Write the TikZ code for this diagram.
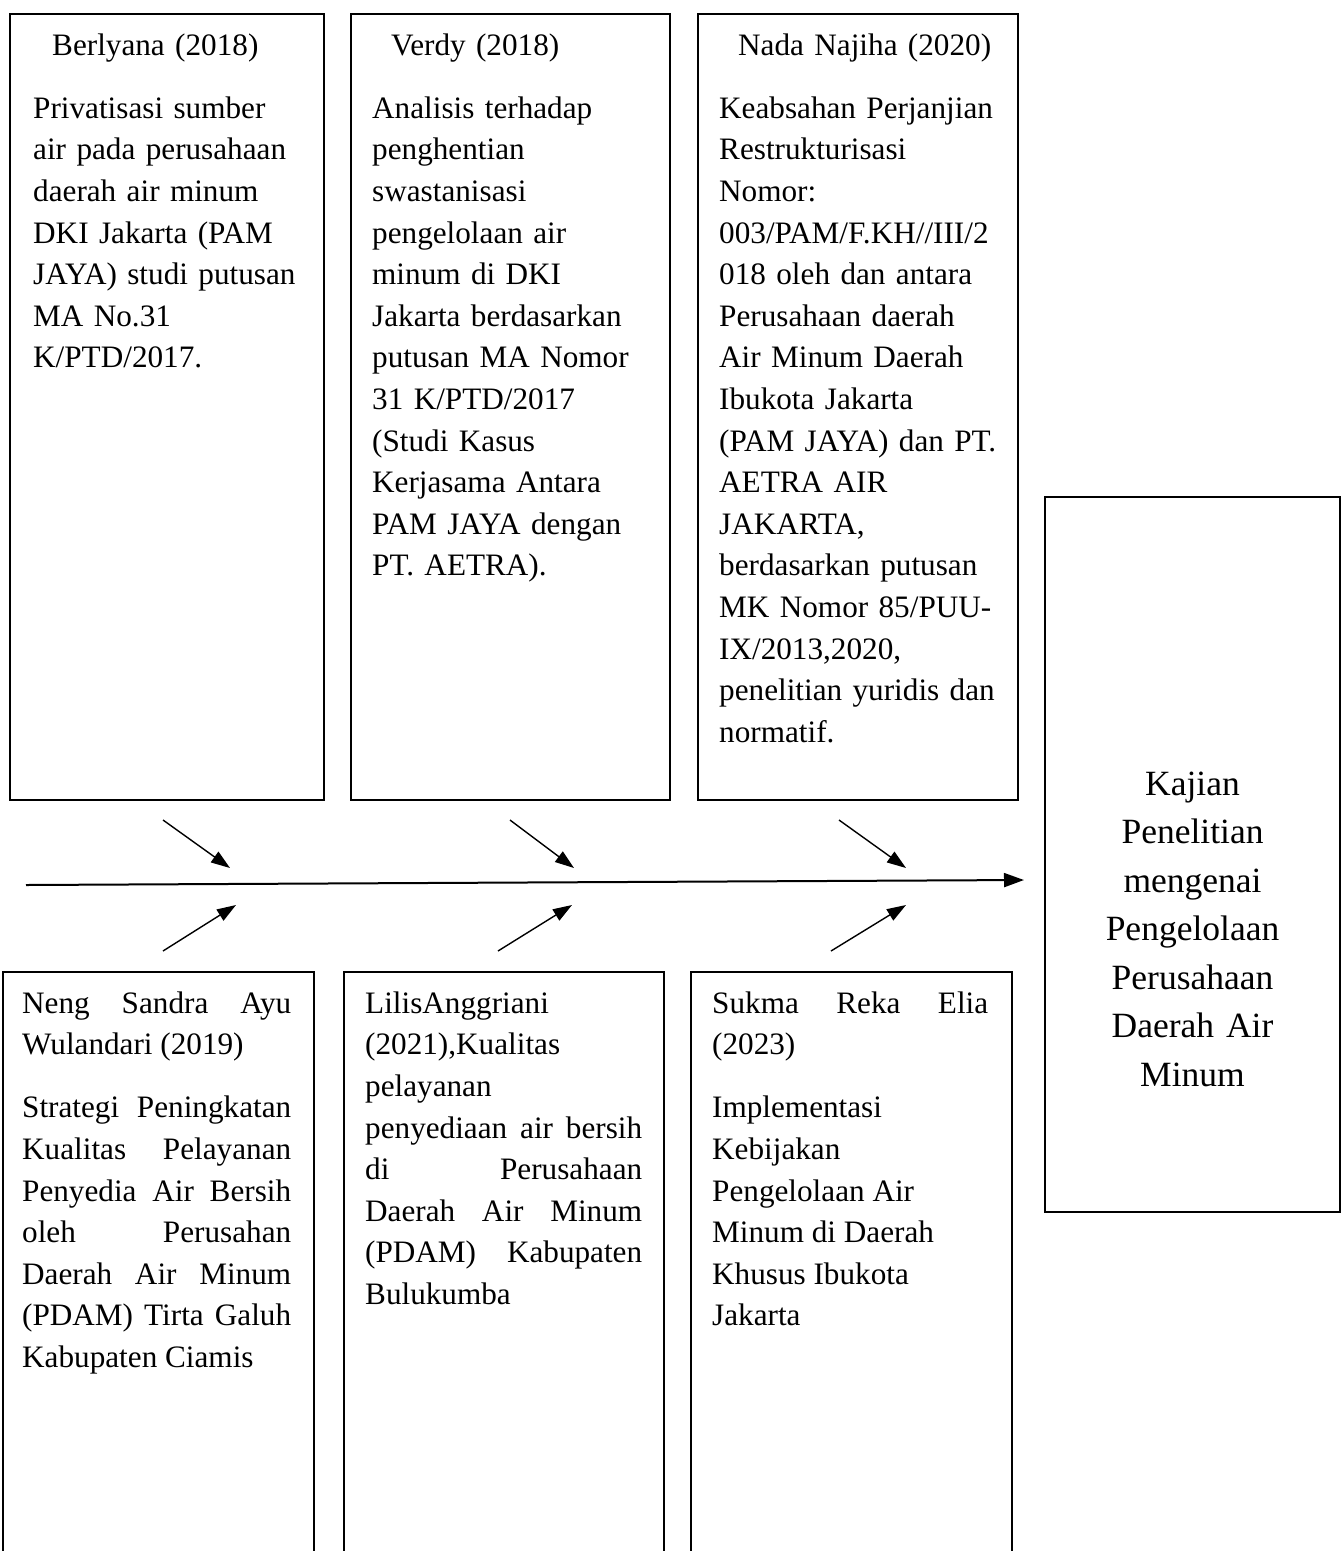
\documentclass[tikz,border=0pt]{standalone}
\usepackage{fontspec}
\setmainfont{Liberation Serif}
\usetikzlibrary{arrows.meta}
\hyphenpenalty=10000
\exhyphenpenalty=10000
\tolerance=10000
\hbadness=10000
\begin{document}
\begin{tikzpicture}[x=1pt,y=-1pt,
  frame/.style={draw, line width=1.8pt, inner sep=0pt},
  txt/.style={anchor=north west, inner sep=0pt, font=\fontsize{31.2pt}{41.6pt}\selectfont},
  leftpar/.style={txt, align=left, text width=#1},
  justpar/.style={txt, align=justify, text width=#1},
  feeder/.style={line width=1.4pt, -{Triangle[length=19pt,width=13pt]}},
  spine/.style={line width=2pt, -{Triangle[length=20pt,width=14pt]}}]

\path[use as bounding box, clip] (0,0) rectangle (1343,1551);

% upper row of sources
\node[frame, minimum width=314pt, minimum height=786pt] (berlyana) at (167,407) {};
\node[frame, minimum width=319pt, minimum height=786pt] (verdy) at (510.5,407) {};
\node[frame, minimum width=320pt, minimum height=786pt] (nada) at (858,407) {};

% lower row of sources (running past the page foot)
\node[frame, minimum width=311pt, minimum height=598pt] (neng) at (158.5,1271) {};
\node[frame, minimum width=320pt, minimum height=598pt] (lilis) at (504,1271) {};
\node[frame, minimum width=321pt, minimum height=598pt] (sukma) at (851.5,1271) {};

% outcome box
\node[frame, minimum width=295pt, minimum height=715pt] (kajian) at (1192.5,854.5) {};

% texts of the upper row
\node[leftpar=285pt] (berlyanatext) at (33,25.9) {\strut\hspace*{19pt}Berlyana (2018)\\[21.4pt]
Privatisasi sumber\\
air pada perusahaan\\
daerah air minum\\
DKI Jakarta (PAM\\
JAYA) studi putusan\\
MA No.31\\
K/PTD/2017.};

\node[leftpar=290pt] (verdytext) at (372,25.9) {\strut\hspace*{19pt}Verdy (2018)\\[21.4pt]
Analisis terhadap\\
penghentian\\
swastanisasi\\
pengelolaan air\\
minum di DKI\\
Jakarta berdasarkan\\
putusan MA Nomor\\
31 K/PTD/2017\\
(Studi Kasus\\
Kerjasama Antara\\
PAM JAYA dengan\\
PT. AETRA).};

\node[leftpar=295pt] (nadatext) at (719,25.9) {\strut\hspace*{19pt}Nada Najiha (2020)\\[21.4pt]
Keabsahan Perjanjian\\
Restrukturisasi\\
Nomor:\\
003/PAM/F.KH//III/2\\
018 oleh dan antara\\
Perusahaan daerah\\
Air Minum Daerah\\
Ibukota Jakarta\\
(PAM JAYA) dan PT.\\
AETRA AIR\\
JAKARTA,\\
berdasarkan putusan\\
MK Nomor 85/PUU-\\
IX/2013,2020,\\
penelitian yuridis dan\\
normatif.};

% texts of the lower row
\node[justpar=269pt] (nengtext) at (22,983.9) {\strut Neng Sandra Ayu\linebreak
Wulandari (2019)\\[21.4pt]
Strategi Peningkatan\linebreak
Kualitas Pelayanan\linebreak
Penyedia Air Bersih\linebreak
oleh Perusahan\linebreak
Daerah Air Minum\linebreak
(PDAM) Tirta Galuh\linebreak
Kabupaten Ciamis};

\node[justpar=277pt] (lilistext) at (365,983.9) {\strut LilisAnggriani\newline
(2021),Kualitas\newline
pelayanan\newline
penyediaan air bersih\linebreak
di Perusahaan\linebreak
Daerah Air Minum\linebreak
(PDAM) Kabupaten\linebreak
Bulukumba};

\node[justpar=276pt] (sukmatext) at (712,983.9) {\strut Sukma Reka Elia\linebreak
(2023)\\[21.4pt]
Implementasi\newline
Kebijakan\newline
Pengelolaan Air\newline
Minum di Daerah\newline
Khusus Ibukota\newline
Jakarta};

% outcome text
\node[anchor=north, inner sep=0pt, align=center, text width=280pt,
      font=\fontsize{35.5pt}{48.5pt}\selectfont] (kajiantext) at (1192.5,761.05)
  {\strut Kajian\\Penelitian\\mengenai\\Pengelolaan\\Perusahaan\\Daerah Air\\Minum};

% spine
\coordinate (spineL) at (26,885);
\coordinate (spineR) at (1024,880);
\draw[spine] (spineL) -- (spineR);

% feeders from the upper row
\coordinate (fa1) at (163,820); \coordinate (fa2) at (230,868);
\coordinate (fb1) at (510,820); \coordinate (fb2) at (574,868);
\coordinate (fc1) at (839,820); \coordinate (fc2) at (906,868);
\draw[feeder] (fa1) -- (fa2);
\draw[feeder] (fb1) -- (fb2);
\draw[feeder] (fc1) -- (fc2);

% feeders from the lower row
\coordinate (ga1) at (163,951); \coordinate (ga2) at (236,905);
\coordinate (gb1) at (498,951); \coordinate (gb2) at (572,905);
\coordinate (gc1) at (831,951); \coordinate (gc2) at (906,905);
\draw[feeder] (ga1) -- (ga2);
\draw[feeder] (gb1) -- (gb2);
\draw[feeder] (gc1) -- (gc2);
\end{tikzpicture}
\end{document}
